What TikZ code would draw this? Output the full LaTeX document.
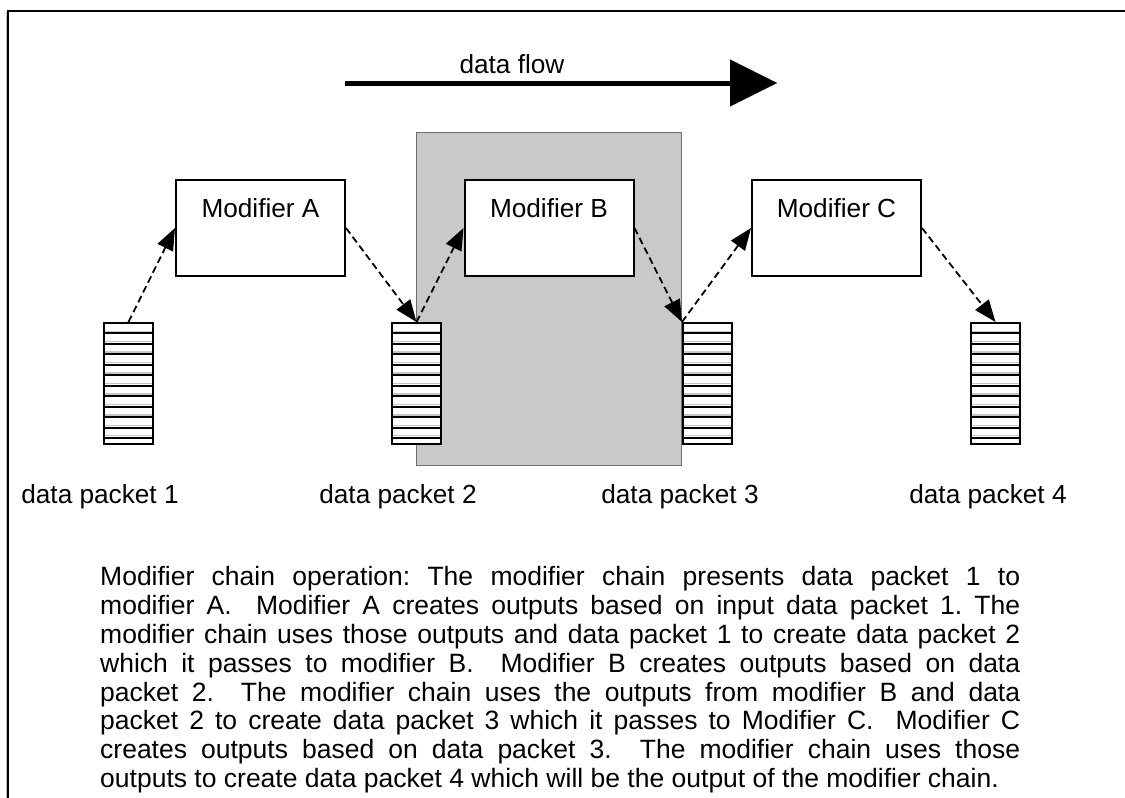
\documentclass[tikz,border=0pt]{standalone}
\usepackage{fontspec}
\setmainfont{Liberation Sans}
\usetikzlibrary{arrows.meta}
\definecolor{shadebox}{RGB}{201,201,201}
\definecolor{shadeedge}{RGB}{110,110,110}

\begin{document}
\frenchspacing
\begin{tikzpicture}[x=1pt,y=-1pt,
  font=\fontsize{26.2}{29}\selectfont,
  modbox/.style={draw, fill=white, line width=2pt, minimum width=169pt, inner xsep=0pt, inner ysep=0pt, text height=37pt, text depth=59pt},
  packet/.style={draw, fill=white, line width=2pt, minimum width=49pt, minimum height=121pt, inner sep=0pt,
    path picture={\foreach \k in {1,...,11} {
      \draw[gray!45, line width=1.4pt] ([yshift={-\k*10.45pt+2.2pt}]path picture bounding box.north west) -- ([yshift={-\k*10.45pt+2.2pt}]path picture bounding box.north east);
      \draw[line width=2pt] ([yshift={-\k*10.45pt}]path picture bounding box.north west) -- ([yshift={-\k*10.45pt}]path picture bounding box.north east);}}},
  pktlabel/.style={anchor=base, inner sep=0pt},
  flow/.style={line width=1.8pt, dash pattern=on 7pt off 4pt, -{Triangle[length=22pt,width=17pt]}}]
  \useasboundingbox (0,0) rectangle (1125,798);

  \draw[gray!50, line width=1pt] (6,798) -- (6,12);
  \draw[line width=2pt] (8,798) -- (8,11) -- (1125,11);

  \draw[shadeedge, fill=shadebox, line width=1pt] (416,132) rectangle (681,465);

  \coordinate (fstart) at (345,83);
  \coordinate (fend) at (777,83);
  \draw[line width=5pt, -{Triangle[length=47pt,width=47pt,line width=0.1pt]}] (fstart) -- (fend);
  \node[pktlabel] (flowlbl) at (512,73) {data flow};

  \node[packet] (p1) at (128.5,383.5) {};
  \node[packet] (p2) at (416.5,383.5) {};
  \node[packet] (p3) at (707.5,383.5) {};
  \node[packet] (p4) at (995.5,383.5) {};

  \node[modbox] (A) at (260.5,228) {Modifier A};
  \node[modbox] (B) at (549,228) {Modifier B};
  \node[modbox] (C) at (836.5,228) {Modifier C};

  \draw[flow] (p1.north) -- (A.west);
  \draw[flow] (A.east) -- (p2.north);
  \draw[flow] (p2.north) -- (B.west);
  \draw[flow] (B.east) -- (p3.north west);
  \draw[flow] (p3.north west) -- (C.west);
  \draw[flow] (C.east) -- (p4.north);

  \node[pktlabel] (l1) at (100,503) {data packet 1};
  \node[pktlabel] (l2) at (398,503) {data packet 2};
  \node[pktlabel] (l3) at (680,503) {data packet 3};
  \node[pktlabel] (l4) at (988,503) {data packet 4};

  \node[anchor=north west, text width=920pt, align=justify, inner sep=0pt,
        font=\fontsize{26.5}{28.8}\selectfont] (desc) at (100,566.5)
    {Modifier chain operation: The modifier chain presents data packet 1 to\linebreak
     modifier A.\ \ Modifier A creates outputs based on input data packet 1. The\linebreak
     modifier chain uses those outputs and data packet 1 to create data packet 2\linebreak
     which it passes to modifier B.\ \ Modifier B creates outputs based on data\linebreak
     packet 2.\ \ The modifier chain uses the outputs from modifier B and data\linebreak
     packet 2 to create data packet 3 which it passes to Modifier C.\ \ Modifier C\linebreak
     creates outputs based on data packet 3.\ \ The modifier chain uses those\linebreak
     outputs to create data packet 4 which will be the output of the modifier chain.};
\end{tikzpicture}
\end{document}
